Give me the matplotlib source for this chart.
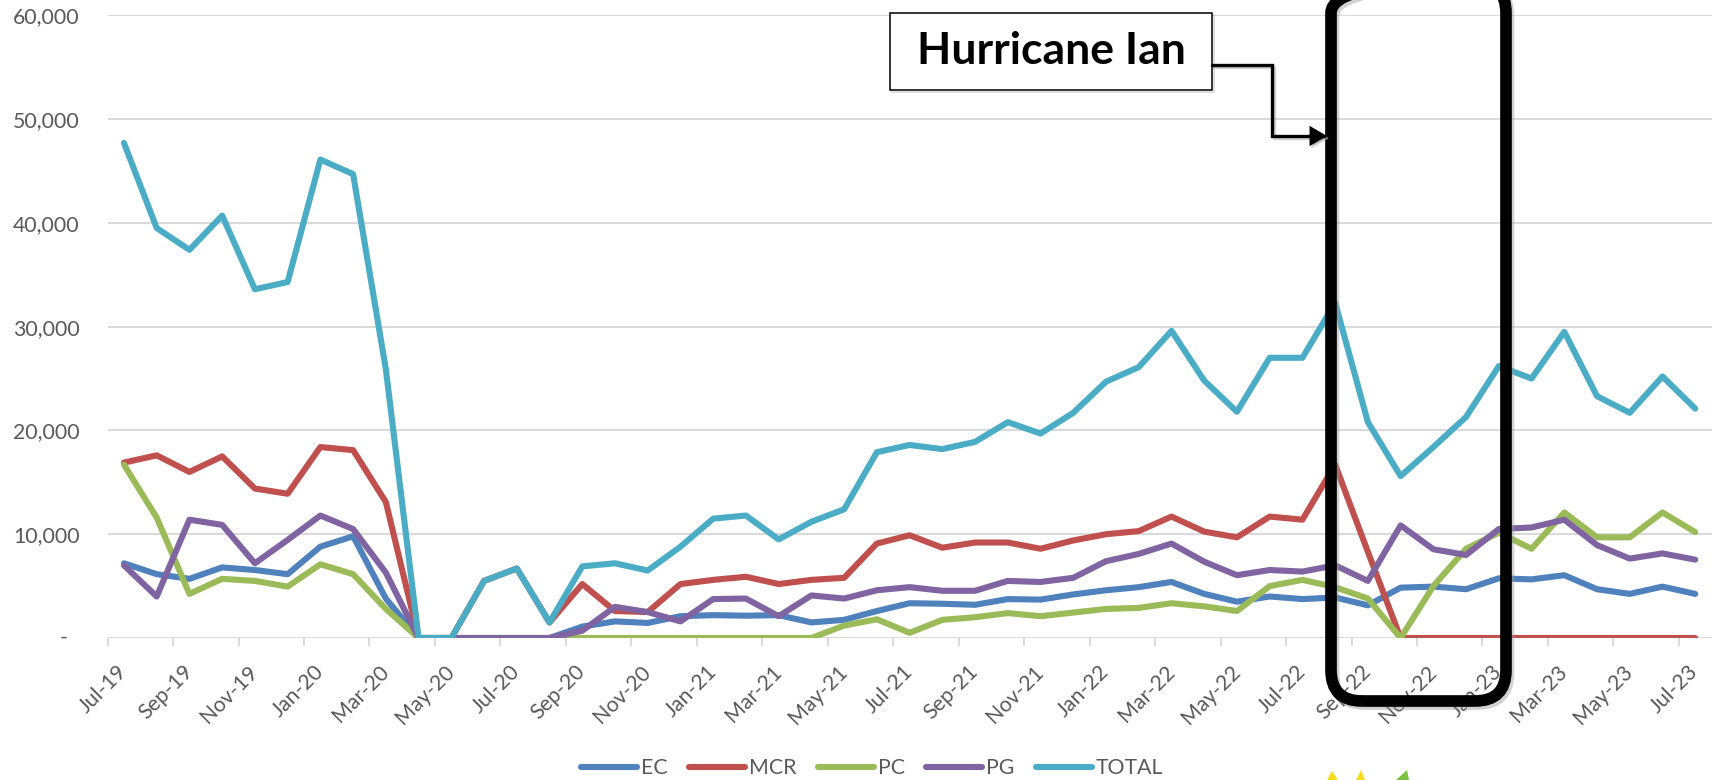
import matplotlib
matplotlib.use("Agg")
import matplotlib.pyplot as plt
from matplotlib.patches import FancyBboxPatch, Rectangle, FancyArrowPatch, Polygon
from matplotlib.path import Path
from matplotlib.transforms import IdentityTransform, offset_copy
from matplotlib.ticker import MultipleLocator, FuncFormatter

plt.rcParams['font.family'] = ['Lato', 'DejaVu Sans']

# ---- data -------------------------------------------------------------
months = ["Jul-19", "Aug-19", "Sep-19", "Oct-19", "Nov-19", "Dec-19",
          "Jan-20", "Feb-20", "Mar-20", "Apr-20", "May-20", "Jun-20",
          "Jul-20", "Aug-20", "Sep-20", "Oct-20", "Nov-20", "Dec-20",
          "Jan-21", "Feb-21", "Mar-21", "Apr-21", "May-21", "Jun-21",
          "Jul-21", "Aug-21", "Sep-21", "Oct-21", "Nov-21", "Dec-21",
          "Jan-22", "Feb-22", "Mar-22", "Apr-22", "May-22", "Jun-22",
          "Jul-22", "Aug-22", "Sep-22", "Oct-22", "Nov-22", "Dec-22",
          "Jan-23", "Feb-23", "Mar-23", "Apr-23", "May-23", "Jun-23",
          "Jul-23"]

ec = [7200, 6150, 5700, 6800, 6550, 6150, 8800, 9800, 3800, 0,
      0, 0, 0, 0, 1100, 1600, 1450, 2100, 2200, 2150,
      2200, 1500, 1750, 2600, 3350, 3300, 3200, 3750, 3700, 4200,
      4600, 4900, 5400, 4250, 3500, 4000, 3750, 3900, 3150, 4850,
      4950, 4700, 5750, 5650, 6050, 4700, 4250, 4950, 4250]

mcr = [16900, 17600, 16000, 17500, 14400, 13900, 18400, 18100, 13100, 0,
       0, 5500, 6700, 1500, 5200, 2600, 2500, 5200, 5600, 5900,
       5200, 5600, 5800, 9100, 9900, 8700, 9200, 9200, 8600, 9400,
       10000, 10300, 11700, 10250, 9700, 11700, 11400, 16700, 8300, 0,
       0, 0, 0, 0, 0, 0, 0, 0, 0]

pc = [16700, 11600, 4250, 5700, 5500, 4950, 7100, 6150, 2800, 0,
      0, 0, 0, 0, 0, 0, 0, 0, 0, 0,
      0, 0, 1200, 1800, 500, 1750, 2000, 2400, 2100, 2450,
      2800, 2900, 3350, 3050, 2600, 5000, 5600, 4900, 3800, 0,
      5000, 8600, 10150, 8600, 12100, 9700, 9700, 12100, 10200]

pg = [7000, 4000, 11400, 10900, 7200, 9450, 11800, 10500, 6300, 0,
      0, 0, 0, 0, 700, 3000, 2500, 1600, 3750, 3800,
      2100, 4100, 3800, 4600, 4900, 4550, 4550, 5500, 5400, 5800,
      7400, 8100, 9100, 7350, 6050, 6550, 6400, 7000, 5500, 10850,
      8550, 8000, 10500, 10650, 11400, 8950, 7650, 8150, 7550]

total = [47700, 39500, 37400, 40700, 33600, 34300, 46100, 44700, 25900, 0,
         0, 5500, 6700, 1500, 6900, 7200, 6500, 8800, 11500, 11800,
         9500, 11200, 12400, 17900, 18600, 18200, 18900, 20800, 19700, 21700,
         24700, 26100, 29600, 24800, 21800, 27000, 27000, 32300, 20800, 15600,
         18400, 21300, 26200, 25000, 29500, 23300, 21700, 25200, 22100]

series_names = ["EC", "MCR", "PC", "PG", "TOTAL"]
series_values = [ec, mcr, pc, pg, total]
series_colors = ["#4F81BD", "#C0504D", "#9BBB59", "#8064A2", "#4BACC6"]

# ---- figure -----------------------------------------------------------
W, H, DPI = 1719, 780, 100
fig = plt.figure(figsize=(W / DPI, H / DPI), dpi=DPI, facecolor="white")
ax = fig.add_axes([107.6 / W, (H - 638) / H, 1604 / W, 622.7 / H])

TXT = "#595959"
FS = 15.3

xs = list(range(len(months)))
for name, vals, col in zip(series_names, series_values, series_colors):
    ax.plot(xs, vals, color=col, lw=4.4, label=name,
            solid_joinstyle="round", solid_capstyle="round")

ax.set_xlim(-0.5, len(months) - 0.5)
ax.set_ylim(0, 60000)
for s in ax.spines.values():
    s.set_visible(False)

ax.yaxis.set_major_locator(MultipleLocator(10000))
ax.yaxis.set_major_formatter(FuncFormatter(lambda v, p: f"{v:,.0f}" if v else ""))
ax.grid(axis="y", color="#d9d9d9", lw=1.4)
ax.set_axisbelow(True)
ax.tick_params(axis="y", length=0, pad=20, labelsize=FS, labelcolor=TXT)
# zero shown as a dash, as in accounting number format
ax.text(0, 0, "-", transform=offset_copy(ax.get_yaxis_transform(), fig=fig,
                                          x=-40, y=0, units="dots"),
        ha="right", va="center", fontsize=FS, color=TXT)

ax.set_xticks(xs[::2])
ax.set_xticklabels(months[::2], rotation=45, ha="right", va="center",
                   rotation_mode="anchor")
ax.set_xticks([i - 0.5 for i in range(0, len(months), 2)], minor=True)
ax.tick_params(axis="x", which="major", length=0, pad=22, labelsize=FS,
               labelcolor=TXT)
ax.tick_params(axis="x", which="minor", length=5.8, width=1.4, color="#d9d9d9")

fig.legend(loc="center", bbox_to_anchor=(872 / W, (H - 768) / H), ncol=5,
           frameon=False, fontsize=FS, labelcolor=TXT, handlelength=2.63,
           handletextpad=0.2, columnspacing=1.0, borderaxespad=0)

# ---- annotation (drawn in pixel units) -------------------------------
ident = IdentityTransform()


def P(x, y):
    return (x, H - y)


# rounded frame around the hurricane months, with a soft shadow
for dx, dy, col, a in [(2.5, -3, "#9a9a9a", 0.45), (0, 0, "black", 1.0)]:
    frame = FancyBboxPatch((1331 + dx, H - 701 + dy), 175, 719,
                           boxstyle="round,pad=0,rounding_size=31",
                           fc="none", ec=col, alpha=a, lw=8.4,
                           transform=ident)
    fig.add_artist(frame)

# label box
for dx, dy, col, a in [(2, -2, "#9a9a9a", 0.4), (0, 0, "black", 1.0)]:
    fig.add_artist(Rectangle((890 + dx, H - 90 + dy), 322, 77.3,
                             fc="white" if a == 1.0 else "none", ec=col,
                             alpha=a, lw=1.1, transform=ident))
fig.text(1051 / W, (H - 51) / H, "Hurricane Ian", ha="center", va="center",
         fontsize=32, fontweight="bold", color="black")

# elbow connector with arrow
for dx, dy, col, a in [(2, -2, "#9a9a9a", 0.45), (0, 0, "black", 1.0)]:
    verts = [P(1212 + dx, 64.7 - dy), P(1272 + dx, 64.7 - dy),
             P(1272 + dx, 136 - dy), P(1327 + dx, 136 - dy)]
    path = Path(verts, [Path.MOVETO, Path.LINETO, Path.LINETO, Path.LINETO])
    fig.add_artist(FancyArrowPatch(path=path,
                                   arrowstyle="-|>,head_length=0.6,head_width=0.35",
                                   mutation_scale=15, lw=2.4, color=col,
                                   alpha=a, joinstyle="miter",
                                   transform=ident))

# bits of a logo at the bottom edge
for pts, col in [([(1327, 780), (1332, 771), (1338, 780)], "#F4DE1A"),
                 ([(1356, 780), (1361, 770), (1365, 780)], "#F4DE1A"),
                 ([(1396, 780), (1407, 770), (1409, 780)], "#7CC142")]:
    fig.add_artist(Polygon([P(x, y) for x, y in pts], closed=True, fc=col,
                           ec="none", transform=ident))

fig.savefig("out.png", dpi=DPI, facecolor="white")
